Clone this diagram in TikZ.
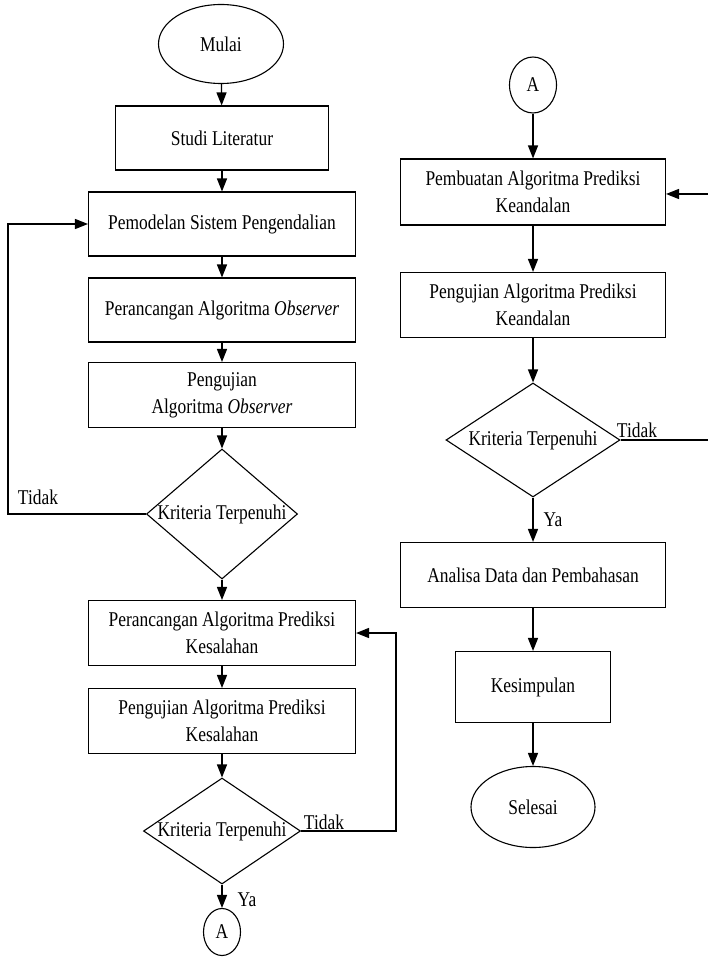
\documentclass[tikz,border=0pt]{standalone}
\usepackage{fontspec}
\setmainfont{Liberation Serif}[FakeStretch=0.83]
\usetikzlibrary{shapes.geometric,arrows.meta,calc}
\begin{document}
\begin{tikzpicture}[x=1pt,y=-1pt,
  every node/.style={font=\fontsize{21}{27}\selectfont},
  box/.style={draw,line width=1.1pt,rectangle,inner sep=0pt,align=center,fill=white},
  oval/.style={draw,line width=1.1pt,ellipse,inner sep=0pt,fill=white},
  decision/.style={draw,line width=1.1pt,diamond,inner sep=0pt,fill=white},
  arr/.style={line width=1.3pt,-{Triangle[width=10pt,length=13pt]}},
  ln/.style={line width=1.3pt},
  lbl/.style={inner sep=0pt}]
\useasboundingbox (0,0) rectangle (708,957);
% left column
\node[oval,minimum width=125pt,minimum height=79pt] (mulai) at (221,44) {Mulai};
\node[box,minimum width=213pt,minimum height=64pt] (studi) at (222,138) {Studi Literatur};
\node[box,minimum width=267pt,minimum height=64pt] (model) at (222,224) {Pemodelan Sistem Pengendalian};
\node[box,minimum width=267pt,minimum height=64pt] (obs1) at (222,310) {Perancangan Algoritma \textit{Observer}};
\node[box,minimum width=267pt,minimum height=65pt] (obs2) at (222,395) {Pengujian\\Algoritma \textit{Observer}};
\node[decision,minimum width=151pt,minimum height=130pt] (d1) at (222,514) {\makebox[0pt]{Kriteria Terpenuhi}};
\node[box,minimum width=267pt,minimum height=65pt] (pred1) at (222,633) {Perancangan Algoritma Prediksi\\Kesalahan};
\node[box,minimum width=267pt,minimum height=65pt] (pred2) at (222,721) {Pengujian Algoritma Prediksi\\Kesalahan};
\node[decision,minimum width=157pt,minimum height=106pt] (d2) at (222,831) {\makebox[0pt]{Kriteria Terpenuhi}};
\node[oval,minimum width=37pt,minimum height=47pt] (a1) at (222,932) {A};
% right column
\node[oval,minimum width=47pt,minimum height=56pt] (a2) at (533,85) {A};
\node[box,minimum width=265pt,minimum height=66pt] (kd1) at (533,192) {Pembuatan Algoritma Prediksi\\Keandalan};
\node[box,minimum width=265pt,minimum height=65pt] (kd2) at (533,305) {Pengujian Algoritma Prediksi\\Keandalan};
\node[decision,minimum width=174pt,minimum height=114pt] (d3) at (533,440) {\makebox[0pt]{Kriteria Terpenuhi}};
\node[box,minimum width=265pt,minimum height=65pt] (anal) at (533,575) {Analisa Data dan Pembahasan};
\node[box,minimum width=155pt,minimum height=71pt] (kes) at (533,687) {Kesimpulan};
\node[oval,minimum width=124pt,minimum height=81pt] (sel) at (533,807) {Selesai};
% coordinates for loops
\coordinate (loopL) at (8,0);
\coordinate (loopR) at (396,0);
\coordinate (edgeR) at (709,0);
% connectors
\draw[arr] (mulai) -- (studi);
\draw[arr] (studi) -- (model);
\draw[arr] (model) -- (obs1);
\draw[arr] (obs1) -- (obs2);
\draw[arr] (obs2) -- (d1);
\draw[arr] (d1) -- (pred1);
\draw[arr] (pred1) -- (pred2);
\draw[arr] (pred2) -- (d2);
\draw[arr] (d2) -- (a1);
\draw[arr] (d1.west) -- (d1.west -| loopL) |- (model.west);
\draw[arr] (d2.east) -- (d2.east -| loopR) |- (pred1.east);
\draw[arr] (a2) -- (kd1);
\draw[arr] (kd1) -- (kd2);
\draw[arr] (kd2) -- (d3);
\draw[arr] (d3) -- (anal);
\draw[arr] (anal) -- (kes);
\draw[arr] (kes) -- (sel);
\draw[ln] (d3.east) -- (d3.east -| edgeR);
\draw[arr] ($(kd1.east -| edgeR)+(0,2)$) -- ($(kd1.east)+(0,2)$);
% labels
\node[lbl] (t1) at (38,497) {Tidak};
\node[lbl] (t2) at (324,822) {Tidak};
\node[lbl] (t3) at (637,430) {Tidak};
\node[lbl] (y1) at (247,900) {Ya};
\node[lbl] (y2) at (553,520) {Ya};
\end{tikzpicture}
\end{document}
